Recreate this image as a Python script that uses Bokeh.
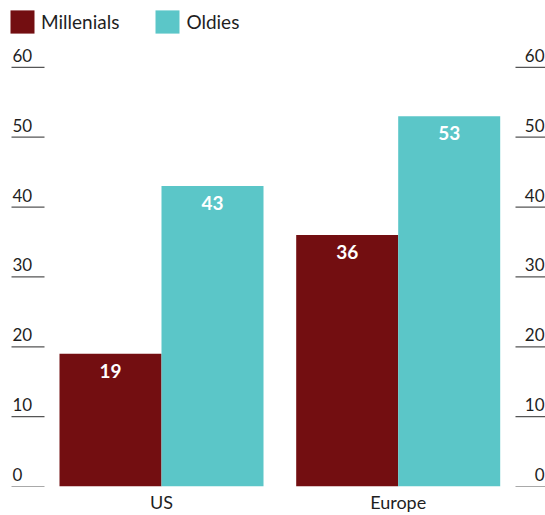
from bokeh.plotting import figure
from bokeh.models import Range1d, FixedTicker, ColumnDataSource, Legend, LegendItem
from bokeh.core.properties import value
from bokeh.embed import file_html
from bokeh.resources import INLINE

# ---- data ----
categories = ["US", "Europe"]
millenials = [19, 36]
oldies = [43, 53]
y_ticks = [0, 10, 20, 30, 40, 50, 60]
series_names = ["Millenials", "Oldies"]

# ---- styling / layout ----
FONT = "Lato"
MAROON = "#730E11"
CYAN = "#5BC6C8"
TEXT = "#1f1f1f"
TICK = "#555555"

W, H = 545, 515
BOTTOM = 28              # height of the category-axis panel
PX_PER_UNIT = 7.0        # vertical pixels per value unit
CAT_PX = 236.7           # horizontal pixels between category centres
FIRST_PX = 161.0         # pixel x of first category centre
BAR_W = 102.0 / CAT_PX   # bar width in data units
DODGE = BAR_W / 2

frame_h = H - BOTTOM


def px_x(px):
    """convert a horizontal pixel position of the frame to data x"""
    return (px - FIRST_PX) / CAT_PX


x_range = Range1d(px_x(0), px_x(W))
y_range = Range1d(0, frame_h / PX_PER_UNIT)

p = figure(width=W, height=H, output_backend="svg", toolbar_location=None,
           x_range=x_range, y_range=y_range,
           min_border_left=0, min_border_right=0, min_border_top=0,
           min_border_bottom=BOTTOM)
p.outline_line_color = None
p.grid.visible = False
p.yaxis.visible = False
p.background_fill_color = "white"
p.border_fill_color = "white"

xpos = list(range(len(categories)))
src = ColumnDataSource(dict(
    x=xpos,
    cat=categories,
    mill=millenials,
    old=oldies,
    x_mill=[x - DODGE for x in xpos],
    x_old=[x + DODGE for x in xpos],
    mill_txt=[str(v) for v in millenials],
    old_txt=[str(v) for v in oldies],
))

r_mill = p.vbar(x="x_mill", top="mill", width=BAR_W, bottom=0, source=src,
                fill_color=MAROON, line_color=None)
r_old = p.vbar(x="x_old", top="old", width=BAR_W, bottom=0, source=src,
               fill_color=CYAN, line_color=None)

# value labels inside bars
for xcol, ycol, tcol in (("x_mill", "mill", "mill_txt"), ("x_old", "old", "old_txt")):
    p.text(x=xcol, y=ycol, text=tcol, source=src, text_align="center",
           text_baseline="alphabetic", y_offset=17, text_color="white",
           text_font=value(FONT), text_font_style="bold", text_font_size="19px")

# y "axis": tick lines with labels sitting above, on both sides
tick_src = ColumnDataSource(dict(y=y_ticks, label=[str(t) for t in y_ticks]))
p.segment(x0=px_x(11), x1=px_x(44), y0="y", y1="y", source=tick_src,
          line_color=TICK, line_width=1.2)
p.segment(x0=px_x(515), x1=px_x(W + 5), y0="y", y1="y", source=tick_src,
          line_color=TICK, line_width=1.2)
p.text(x=px_x(12), y="y", text="label", source=tick_src, text_align="left",
       text_baseline="alphabetic", y_offset=-12, text_color=TEXT,
       text_font=value(FONT), text_font_size="17px")
p.text(x=px_x(544), y="y", text="label", source=tick_src, text_align="right",
       text_baseline="alphabetic", y_offset=-12, text_color=TEXT,
       text_font=value(FONT), text_font_size="17px")

# category axis
ax = p.xaxis[0]
ax.ticker = FixedTicker(ticks=xpos)
ax.major_label_overrides = {x: c for x, c in zip(xpos, categories)}
ax.axis_line_color = None
ax.major_tick_line_color = None
ax.minor_tick_line_color = None
ax.major_tick_out = 0
ax.major_tick_in = 0
ax.minor_tick_out = 0
ax.minor_tick_in = 0
ax.axis_label_standoff = 0
ax.major_label_standoff = 4
ax.major_label_text_font = FONT
ax.major_label_text_font_size = "18px"
ax.major_label_text_color = TEXT

# legend
legend = Legend(items=[LegendItem(label=series_names[0], renderers=[r_mill]),
                       LegendItem(label=series_names[1], renderers=[r_old])],
                orientation="horizontal", location=(7, frame_h - 37),
                margin=0, padding=0, spacing=33,
                glyph_width=30, glyph_height=29, label_standoff=4,
                label_text_font=FONT, label_text_font_size="19px",
                label_text_color=TEXT, border_line_color=None,
                background_fill_alpha=0)
p.add_layout(legend)

open("out.html", "w").write(file_html(p, INLINE))
